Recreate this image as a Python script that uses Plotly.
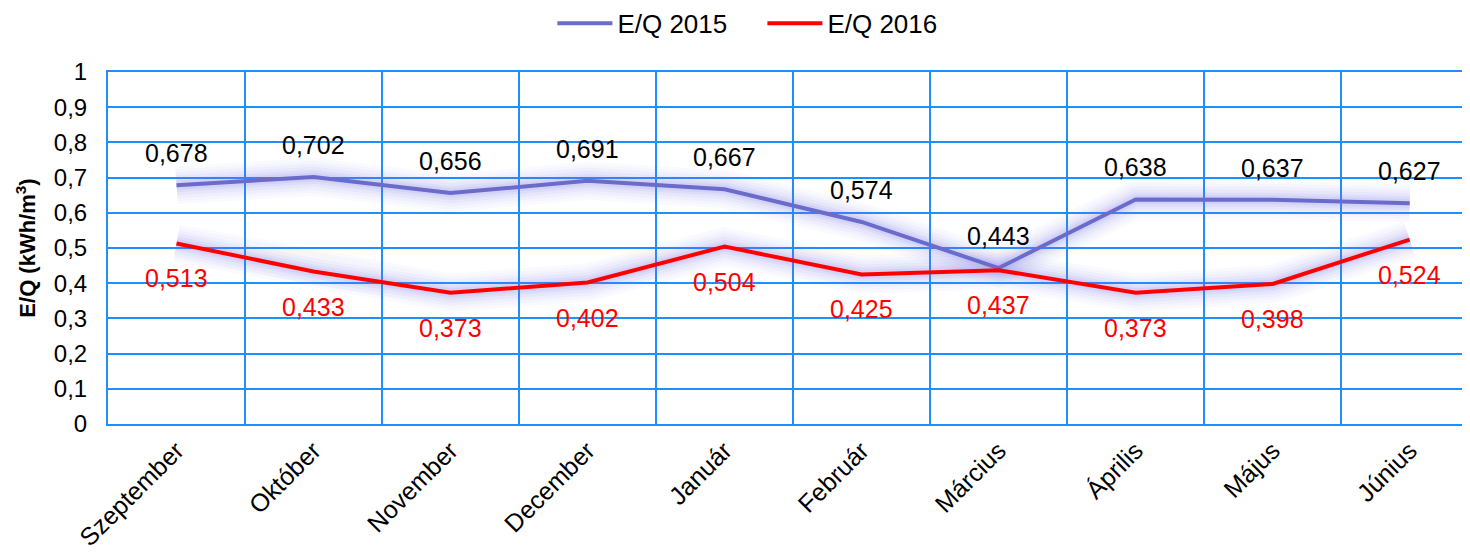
import plotly.graph_objects as go

# months and E/Q values (kWh/m3)
months = ["Szeptember", "Október", "November", "December", "Január",
          "Február", "Március", "Április", "Május", "Június"]
eq_2015 = [0.678, 0.702, 0.656, 0.691, 0.667, 0.574, 0.443, 0.638, 0.637, 0.627]
eq_2016 = [0.513, 0.433, 0.373, 0.402, 0.504, 0.425, 0.437, 0.373, 0.398, 0.524]
y_ticks = [0, 0.1, 0.2, 0.3, 0.4, 0.5, 0.6, 0.7, 0.8, 0.9, 1]

FONT = "Liberation Sans, Arial, sans-serif"
GRID = "#1E8FFF"

fig = go.Figure()

# soft glow under both lines
for ys in (eq_2015, eq_2016):
    for w, a in ((38, 0.035), (32, 0.04), (26, 0.05), (20, 0.06), (14, 0.08), (9, 0.1)):
        fig.add_trace(go.Scatter(x=months, y=ys, mode="lines", showlegend=False,
                                 hoverinfo="skip",
                                 line=dict(color=f"rgba(115,115,235,{a})", width=w)))

fig.add_trace(go.Scatter(x=months, y=eq_2015, mode="lines", name="E/Q 2015",
                         line=dict(color="#6B6BCC", width=4)))
fig.add_trace(go.Scatter(x=months, y=eq_2016, mode="lines", name="E/Q 2016",
                         line=dict(color="#FF0000", width=4)))

# data labels
for m, v in zip(months, eq_2015):
    fig.add_annotation(x=m, y=v, text=f"{v:.3f}".replace(".", ","), showarrow=False,
                       yshift=32, font=dict(family=FONT, size=25, color="black"))
for m, v in zip(months, eq_2016):
    fig.add_annotation(x=m, y=v, text=f"{v:.3f}".replace(".", ","), showarrow=False,
                       yshift=-35, font=dict(family=FONT, size=25, color="#FF0000"))

# page body adds 8px margin, so figure is 8px smaller than the window
fig.update_layout(
    width=1462, height=548,
    margin=dict(l=100, r=0, t=64, b=132, autoexpand=False),
    plot_bgcolor="white", paper_bgcolor="white",
    separators=",.",
    font=dict(family=FONT, size=24, color="black"),
    legend=dict(orientation="h", xref="container", x=0.516, xanchor="center",
                yref="container", y=0.972, yanchor="middle",
                font=dict(size=26), entrywidth=140, itemwidth=55),
    showlegend=True,
)
fig.update_xaxes(type="category", range=[-0.5, 9.44], tickson="boundaries",
                 showgrid=True, gridcolor=GRID, gridwidth=2, automargin=False,
                 showline=True, linecolor=GRID, linewidth=2, mirror=True,
                 ticks="", tickangle=-45, tickfont=dict(size=25))
fig.update_yaxes(range=[0, 1], tickvals=y_ticks, showgrid=True, gridcolor=GRID,
                 gridwidth=2, zeroline=True, zerolinecolor=GRID, zerolinewidth=2,
                 showline=True, linecolor=GRID, linewidth=2, mirror=True,
                 ticks="", tickfont=dict(size=24), automargin=False,
                 ticklabelstandoff=14,
                 title=dict(text="<b>E/Q (kWh/m<sup>3</sup>)</b>", font=dict(size=22),
                            standoff=12))

fig.write_html("out.html")
